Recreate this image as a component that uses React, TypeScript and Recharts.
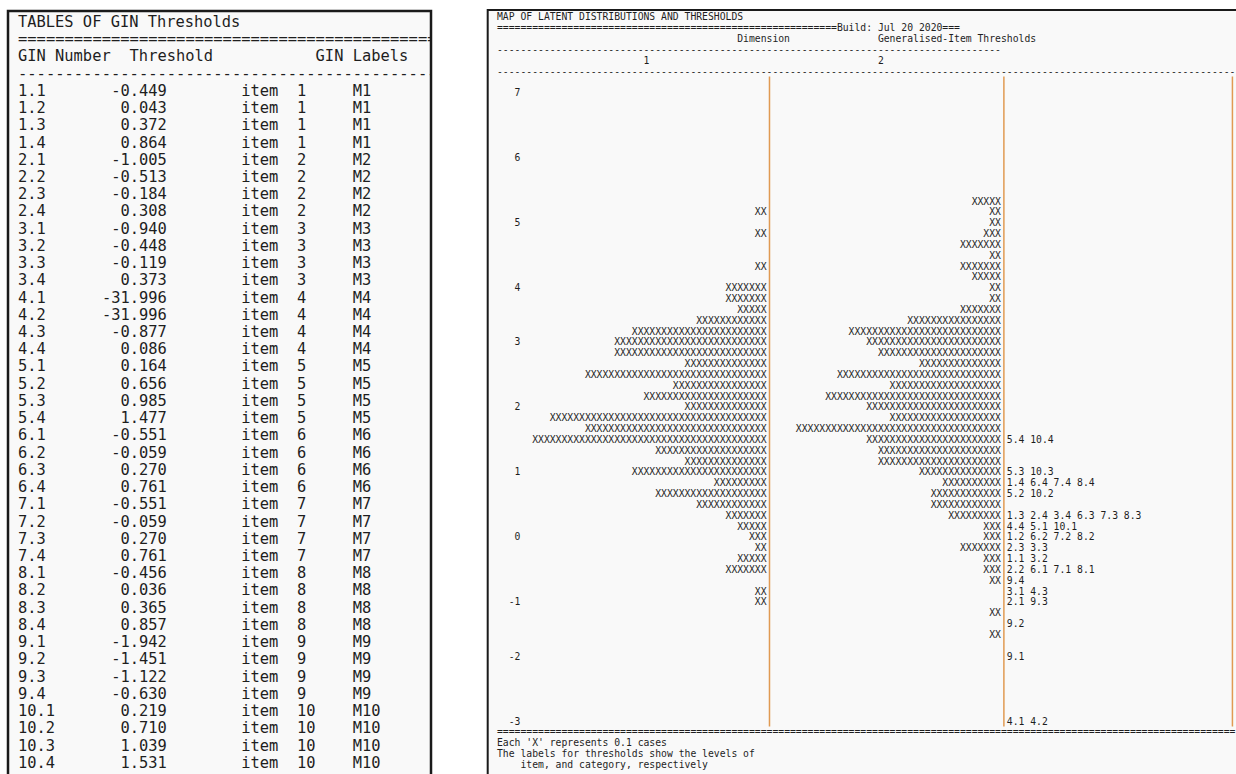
import React from 'react';
import { ComposedChart, Bar, XAxis, YAxis, ReferenceLine, LabelList } from 'recharts';

// ---------- Left table data ----------
const ginNumbers = ['1.1','1.2','1.3','1.4','2.1','2.2','2.3','2.4','3.1','3.2','3.3','3.4','4.1','4.2','4.3','4.4','5.1','5.2','5.3','5.4','6.1','6.2','6.3','6.4','7.1','7.2','7.3','7.4','8.1','8.2','8.3','8.4','9.1','9.2','9.3','9.4','10.1','10.2','10.3','10.4'];
const ginThresholds = [-0.449,0.043,0.372,0.864,-1.005,-0.513,-0.184,0.308,-0.94,-0.448,-0.119,0.373,-31.996,-31.996,-0.877,0.086,0.164,0.656,0.985,1.477,-0.551,-0.059,0.27,0.761,-0.551,-0.059,0.27,0.761,-0.456,0.036,0.365,0.857,-1.942,-1.451,-1.122,-0.63,0.219,0.71,1.039,1.531];
const ginItems = ginNumbers.map((g) => g.split('.')[0]);
const ginLabels = ginItems.map((i) => 'M' + i);

// ---------- Map data (row 0 is the blank top row) ----------
const dim1Counts = [
  0,0,0,0,0,0,0,0,0,0,
  0,0,2,0,2,0,0,2,0,7,
  7,5,12,23,26,26,14,31,16,21,
  14,37,31,40,19,14,23,9,19,12,
  7,5,3,2,5,7,0,2,2,0,
  0,0,0,0,0,0,0,0,0,0,
];
const dim2Counts = [
  0,0,0,0,0,0,0,0,0,0,
  0,5,2,2,3,7,2,7,5,2,
  2,7,16,26,23,21,14,28,19,30,
  23,19,35,23,21,21,14,10,12,12,
  9,3,3,7,3,3,2,0,0,2,
  0,2,0,0,0,0,0,0,0,0,
];
const logitTickRows = [1, 7, 13, 19, 24, 30, 36, 42, 48, 53, 59];
const logitTickLabels = ['7', '6', '5', '4', '3', '2', '1', '0', '-1', '-2', '-3'];
const thresholdRows = [33, 36, 37, 38, 40, 41, 42, 43, 44, 45, 46, 47, 48, 50, 53, 59];
const thresholdTexts = [
  '5.4 10.4', '5.3 10.3', '1.4 6.4 7.4 8.4', '5.2 10.2', '1.3 2.4 3.4 6.3 7.3 8.3',
  '4.4 5.1 10.1', '1.2 6.2 7.2 8.2', '2.3 3.3', '1.1 3.2', '2.2 6.1 7.1 8.1', '9.4',
  '3.1 4.3', '2.1 9.3', '9.2', '9.1', '4.1 4.2',
];

// ---------- Layout constants ----------
const MONO = '"DejaVu Sans Mono", "Liberation Mono", monospace';
const CW = 5.86; // map char width
const LH = 10.833; // map line height
const MX0 = 497;
const MY0 = 17;
const MAP_FS = 9.73;
const LCW = 9.3;
const LLH = 17.23;
const LX0 = 18;
const LY0 = 21.5;
const LEFT_FS = 15.4;
const DIM1_COL = 46;
const DIM2_COL = 86;
const TOTAL_COLS = 126;
const ORANGE = '#E09A52';
const INK = '#1e1e1e';

const rowLabelById: Record<number, string> = {};
logitTickRows.forEach((r, i) => (rowLabelById[r] = logitTickLabels[i]));
const thrById: Record<number, string> = {};
thresholdRows.forEach((r, i) => (thrById[r] = thresholdTexts[i]));

const mapData = dim1Counts.map((d1, id) => {
  const d2 = dim2Counts[id];
  return {
    id,
    tick: rowLabelById[id] || '',
    s1: DIM1_COL - d1,
    d1,
    s2: DIM2_COL - DIM1_COL - d2,
    d2,
    s3: TOTAL_COLS - DIM2_COL,
    thr: thrById[id] || '',
  };
});

const XRun = (props: any) => {
  const { x, y, width, height } = props;
  const n = Math.round(width / CW);
  if (!n || n <= 0) return <g />;
  return (
    <text
      x={x}
      y={y + height / 2}
      dy="0.35em"
      fontFamily={MONO}
      fontSize={MAP_FS}
      fill="#262626"
      textLength={width}
      lengthAdjust="spacingAndGlyphs"
    >
      {'X'.repeat(n)}
    </text>
  );
};

const ThrLabel = (props: any) => {
  const { x, y, height, value } = props;
  if (!value) return <g />;
  return (
    <text x={Number(x) + CW} y={Number(y) + Number(height) / 2} dy="0.35em" fontFamily={MONO} fontSize={MAP_FS} fill={INK}>
      {value}
    </text>
  );
};

const RowLabel = (props: any) => {
  const { x, y, height, value } = props;
  if (!value) return <g />;
  return (
    <text x={Number(x) + 4 * CW} y={Number(y) + Number(height) / 2} dy="0.35em" textAnchor="end" fontFamily={MONO} fontSize={MAP_FS} fill={INK}>
      {value}
    </text>
  );
};

const LT = (p: { col: number; line: number; text: string; anchor?: string; len?: number }) => (
  <text
    x={LX0 + p.col * LCW}
    y={LY0 + p.line * LLH}
    dy="0.35em"
    fontFamily={MONO}
    fontSize={LEFT_FS}
    fill={INK}
    textAnchor={(p.anchor as any) || 'start'}
    textLength={p.len}
    lengthAdjust={p.len ? 'spacingAndGlyphs' : undefined}
  >
    {p.text}
  </text>
);

const MT = (p: { col: number; line: number; text: string; fit?: boolean }) => (
  <text
    x={MX0 + p.col * CW}
    y={MY0 + p.line * LH}
    dy="0.35em"
    fontFamily={MONO}
    fontSize={MAP_FS}
    fill={INK}
    textLength={p.fit ? p.text.length * CW : undefined}
    lengthAdjust={p.fit ? 'spacingAndGlyphs' : undefined}
  >
    {p.text}
  </text>
);

export default function App() {
  const chartW = 750;
  const chartLeft = 486;
  const plotTop = MY0 + 6 * LH - LH / 2;
  const plotBottom = MY0 + 65 * LH + LH / 2;
  const mLeft = MX0 - chartLeft;
  const mRight = chartW - mLeft - TOTAL_COLS * CW;

  return (
    <div style={{ position: 'absolute', left: 0, top: 0, width: 1236, height: 774, background: '#ffffff', overflow: 'hidden' }}>
      <svg width={1236} height={774} style={{ position: 'absolute', left: 0, top: 0 }}>
        <defs>
          <clipPath id="leftClip">
            <rect x={9} y={12} width={421} height={780} />
          </clipPath>
        </defs>
        {/* Left panel */}
        <rect x={8} y={11} width={423} height={800} fill="#F9F9F9" stroke="#1a1a1a" strokeWidth={2.5} />
        <g clipPath="url(#leftClip)">
          <LT col={0} line={0} text="TABLES OF GIN Thresholds" />
          <LT col={0} line={1} text={'='.repeat(46)} len={46 * LCW} />
          <LT col={0} line={2} text="GIN Number" />
          <LT col={12} line={2} text="Threshold" />
          <LT col={32} line={2} text="GIN Labels" />
          <LT col={0} line={3} text={'-'.repeat(46)} len={46 * LCW} />
          {ginNumbers.map((g, i) => (
            <g key={g}>
              <LT col={0} line={4 + i} text={g} />
              <LT col={16} line={4 + i} text={ginThresholds[i].toFixed(3)} anchor="end" />
              <LT col={24} line={4 + i} text="item" />
              <LT col={30} line={4 + i} text={ginItems[i]} />
              <LT col={36} line={4 + i} text={ginLabels[i]} />
            </g>
          ))}
        </g>
        {/* Right panel */}
        <rect x={487.7} y={10} width={800} height={800} fill="#F9F9F9" stroke="#1a1a1a" strokeWidth={2} />
        <MT col={0} line={0} text="MAP OF LATENT DISTRIBUTIONS AND THRESHOLDS" fit />
        <MT col={0} line={1} text={'='.repeat(58) + 'Build: Jul 20 2020==='} fit />
        <MT col={41} line={2} text="Dimension" fit />
        <MT col={65} line={2} text="Generalised-Item Thresholds" fit />
        <MT col={0} line={3} text={'-'.repeat(86)} fit />
        <MT col={25} line={4} text="1" />
        <MT col={65} line={4} text="2" />
        <MT col={0} line={5} text={'-'.repeat(126)} fit />
        <MT col={0} line={66} text={'='.repeat(126)} fit />
        <MT col={0} line={67} text="Each 'X' represents 0.1 cases" fit />
        <MT col={0} line={68} text="The labels for thresholds show the levels of" fit />
        <MT col={4} line={69} text="item, and category, respectively" fit />
      </svg>
      <div style={{ position: 'absolute', left: chartLeft, top: 0 }}>
        <ComposedChart
          width={chartW}
          height={774}
          data={mapData}
          layout="vertical"
          barCategoryGap={0}
          barGap={0}
          margin={{ top: plotTop, bottom: 774 - plotBottom, left: mLeft, right: mRight }}
        >
          <XAxis type="number" domain={[0, TOTAL_COLS]} hide />
          <YAxis type="category" dataKey="id" hide />
          <Bar dataKey="s1" stackId="m" fill="transparent" isAnimationActive={false}>
            <LabelList dataKey="tick" content={RowLabel} />
          </Bar>
          <Bar dataKey="d1" stackId="m" shape={XRun} isAnimationActive={false} />
          <Bar dataKey="s2" stackId="m" fill="transparent" isAnimationActive={false} />
          <Bar dataKey="d2" stackId="m" shape={XRun} isAnimationActive={false} />
          <Bar dataKey="s3" stackId="m" fill="transparent" isAnimationActive={false}>
            <LabelList dataKey="thr" content={ThrLabel} />
          </Bar>
          <ReferenceLine x={DIM1_COL + 0.5} stroke={ORANGE} strokeWidth={1.5} />
          <ReferenceLine x={DIM2_COL + 0.5} stroke={ORANGE} strokeWidth={1.5} />
          <ReferenceLine x={TOTAL_COLS - 0.5} stroke={ORANGE} strokeWidth={1.5} />
        </ComposedChart>
      </div>
    </div>
  );
}
